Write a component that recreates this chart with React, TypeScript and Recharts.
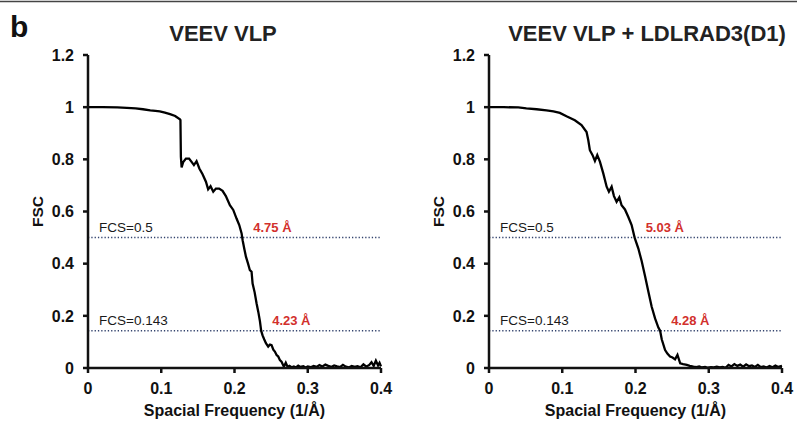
import { LineChart, Line, XAxis, YAxis, ReferenceLine } from "recharts";

// spatial frequency (1/Å) and FSC for VEEV VLP
const freqA = [
  0, 0.02, 0.04, 0.053, 0.065, 0.075, 0.085, 0.092, 0.098, 0.105,
  0.112, 0.119, 0.1255, 0.1262, 0.1268, 0.1278, 0.13, 0.1337, 0.138, 0.1414,
  0.1446, 0.1482, 0.152, 0.1564, 0.161, 0.164, 0.1673, 0.171, 0.1746, 0.179,
  0.1837, 0.1882, 0.1937, 0.1983, 0.2028, 0.2065, 0.2097, 0.2111, 0.2135, 0.2156,
  0.2185, 0.221, 0.2233, 0.2247, 0.2275, 0.2301, 0.2325, 0.2347, 0.2364, 0.2383,
  0.2405, 0.2429, 0.246, 0.2485, 0.2506, 0.253, 0.2551, 0.2575, 0.2597, 0.262,
  0.2642, 0.2674, 0.27, 0.2725, 0.275, 0.278, 0.281, 0.284, 0.287, 0.29,
  0.294, 0.297, 0.3, 0.304, 0.308, 0.312, 0.316, 0.32, 0.324, 0.328,
  0.332, 0.336, 0.34, 0.344, 0.348, 0.352, 0.356, 0.36, 0.364, 0.368,
  0.372, 0.376, 0.38, 0.384, 0.387, 0.39, 0.393, 0.396, 0.398, 0.4,
];
const fscA = [
  1.0, 1.0, 0.999, 0.997, 0.995, 0.992, 0.988, 0.986, 0.984, 0.979,
  0.973, 0.966, 0.953, 0.95, 0.81, 0.769, 0.79, 0.803, 0.803, 0.79,
  0.778, 0.793, 0.765, 0.743, 0.714, 0.685, 0.697, 0.676, 0.688, 0.688,
  0.679, 0.659, 0.624, 0.606, 0.573, 0.548, 0.516, 0.49, 0.455, 0.427,
  0.4, 0.375, 0.369, 0.324, 0.29, 0.248, 0.215, 0.18, 0.143, 0.125,
  0.11, 0.095, 0.082, 0.09, 0.088, 0.07, 0.063, 0.05, 0.044, 0.03,
  0.024, 0.005, 0.02, 0.004, 0.008, 0.003, 0.006, 0.002, 0.009, 0.004,
  0.007, 0.002, 0.006, 0.003, 0.008, 0.004, 0.011, 0.006, 0.013, 0.008,
  0.004, 0.01, 0.006, 0.003, 0.012, 0.005, 0.002, 0.008, 0.004, 0.007,
  0.003, 0.014, 0.005, 0.012, 0.022, 0.008, 0.028, 0.01, 0.02, 0.006,
];

// VEEV VLP + LDLRAD3(D1)
const freqB = [
  0, 0.02, 0.04, 0.051, 0.065, 0.0785, 0.088, 0.0967, 0.1058, 0.1172,
  0.1263, 0.1332, 0.1355, 0.1377, 0.1414, 0.1446, 0.1478, 0.1514, 0.156, 0.1606,
  0.1637, 0.1674, 0.1706, 0.1742, 0.1779, 0.181, 0.1856, 0.1902, 0.1947, 0.1988,
  0.2039, 0.2084, 0.213, 0.2176, 0.2221, 0.2267, 0.2312, 0.2336, 0.2358, 0.2404,
  0.2435, 0.2472, 0.2505, 0.254, 0.2573, 0.261, 0.265, 0.2701, 0.274, 0.2791,
  0.283, 0.287, 0.291, 0.295, 0.299, 0.303, 0.307, 0.311, 0.315, 0.319,
  0.323, 0.327, 0.331, 0.335, 0.339, 0.343, 0.347, 0.351, 0.355, 0.359,
  0.363, 0.367, 0.371, 0.375, 0.379, 0.383, 0.387, 0.391, 0.395, 0.4,
];
const fscB = [
  1.0, 1.0, 0.999, 0.995, 0.992, 0.988, 0.984, 0.978, 0.965, 0.95,
  0.931, 0.905, 0.874, 0.835, 0.816, 0.794, 0.816, 0.791, 0.746, 0.695,
  0.676, 0.695, 0.659, 0.637, 0.654, 0.624, 0.608, 0.579, 0.548, 0.5,
  0.458, 0.41, 0.353, 0.292, 0.235, 0.19, 0.155, 0.143, 0.11, 0.069,
  0.055, 0.044, 0.04, 0.033, 0.05, 0.018, 0.015, 0.012, 0.008, 0.005,
  0.003, 0.006, 0.002, 0.004, 0.001, 0.003, 0.002, 0.005, 0.002, 0.004,
  0.001, 0.012, 0.006, 0.015, 0.008, 0.013, 0.005, 0.014, 0.007, 0.01,
  0.004, 0.012, 0.003, 0.006, 0.002, 0.008, 0.003, 0.009, 0.004, 0.008,
];

const xTicks = [0, 0.1, 0.2, 0.3, 0.4];
const yTicks = [0, 0.2, 0.4, 0.6, 0.8, 1, 1.2];
const thresholds = [0.5, 0.143];
const resolutionsA = [4.75, 4.23];
const resolutionsB = [5.03, 4.28];

const FONT = "'Liberation Sans', Arial, sans-serif";

const RefLabel = (props: any) => {
  const { viewBox, threshold, resolution } = props;
  if (!viewBox) return null;
  const cross = viewBox.x + ((1 / resolution) / 0.4) * viewBox.width;
  return (
    <g fontFamily={FONT} fontSize={13.5}>
      <text x={viewBox.x + 11} y={viewBox.y - 6} fill="#1a1a1a">
        FCS={threshold}
      </text>
      <text x={cross + 11} y={viewBox.y - 6} fill="#d2302c" fontWeight="bold" fontSize={13}>
        {resolution} Å
      </text>
    </g>
  );
};

type PanelProps = {
  freq: number[];
  fsc: number[];
  resolutions: number[];
  left: number;
  width: number;
  marginLeft: number;
  marginRight: number;
};

const Panel = ({ freq, fsc, resolutions, left, width, marginLeft, marginRight }: PanelProps) => {
  const data = freq.map((f, i) => ({ freq: f, fsc: fsc[i] }));
  return (
    <div style={{ position: "absolute", left, top: 0 }}>
      <LineChart
        width={width}
        height={423}
        data={data}
        margin={{ top: 55, right: marginRight, bottom: 0, left: marginLeft }}
      >
        <XAxis
          dataKey="freq"
          type="number"
          domain={[0, 0.4]}
          ticks={xTicks}
          height={55}
          stroke="#111"
          strokeWidth={2.5}
          tickSize={5}
          tickMargin={10}
          tick={{ fontSize: 16, fontWeight: "bold", fill: "#111", fontFamily: FONT }}
          label={{
            value: "Spacial Frequency (1/Å)",
            position: "insideBottom",
            offset: 7,
            style: { fontSize: 16, fontWeight: "bold", fill: "#111", fontFamily: FONT },
          }}
        />
        <YAxis
          type="number"
          domain={[0, 1.2]}
          ticks={yTicks}
          width={60}
          stroke="#111"
          strokeWidth={2.5}
          tickSize={5}
          tickMargin={9}
          tick={{ fontSize: 16, fontWeight: "bold", fill: "#111", fontFamily: FONT }}
          label={{
            value: "FSC",
            angle: -90,
            position: "insideLeft",
            offset: 9,
            style: { fontSize: 15.5, fontWeight: "bold", fill: "#111", fontFamily: FONT, textAnchor: "middle" },
          }}
        />
        {thresholds.map((t, i) => (
          <ReferenceLine
            key={t}
            y={t}
            stroke="#34446e"
            strokeWidth={1.5}
            strokeDasharray="1.3 2"
            label={<RefLabel threshold={t} resolution={resolutions[i]} />}
          />
        ))}
        <Line
          type="linear"
          dataKey="fsc"
          stroke="#000"
          strokeWidth={2.3}
          dot={false}
          isAnimationActive={false}
        />
      </LineChart>
    </div>
  );
};

export default function App() {
  return (
    <div style={{ position: "absolute", left: 0, top: 0, width: 797, height: 423, background: "#fff" }}>
      <svg width={797} height={423} style={{ position: "absolute", left: 0, top: 0 }}>
        <line x1={0} y1={1.5} x2={797} y2={1.5} stroke="#444" strokeWidth={1.3} />
        <text x={10} y={37} fontFamily={FONT} fontSize={30} fontWeight="bold" fill="#111">
          b
        </text>
        <text x={223} y={41} textAnchor="middle" fontFamily={FONT} fontSize={22} fontWeight="bold" fill="#222">
          VEEV VLP
        </text>
        <text x={647} y={41} textAnchor="middle" fontFamily={FONT} fontSize={22} fontWeight="bold" fill="#222">
          VEEV VLP + LDLRAD3(D1)
        </text>
      </svg>
      <Panel freq={freqA} fsc={fscA} resolutions={resolutionsA} left={0} width={400} marginLeft={28} marginRight={19} />
      <Panel freq={freqB} fsc={fscB} resolutions={resolutionsB} left={400} width={397} marginLeft={29} marginRight={15} />
    </div>
  );
}
